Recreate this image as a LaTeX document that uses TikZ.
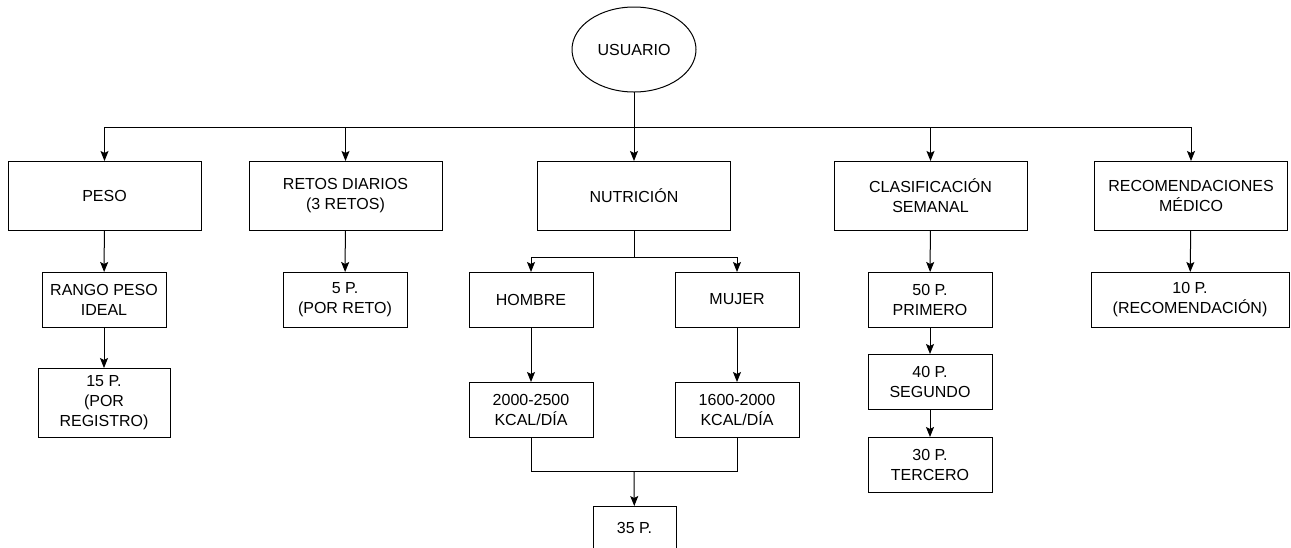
\documentclass[tikz,border=0pt]{standalone}
\usepackage{fontspec}
\setmainfont{Liberation Sans}
\usetikzlibrary{arrows.meta,shapes.geometric}

\begin{document}
\begin{tikzpicture}[x=1pt,y=-1pt,line width=1pt,>={Stealth[length=10pt,width=8pt,inset=2pt]},
  every node/.style={font=\fontsize{16}{20}\selectfont,align=center,inner sep=0pt,outer sep=0pt},
  caja/.style={draw,rectangle,minimum width=124pt,minimum height=55pt},
  grande/.style={caja,minimum width=193pt,minimum height=69pt}]
  \useasboundingbox (0,0) rectangle (1291,547);
  \node[draw,ellipse,minimum width=124pt,minimum height=85pt] (usuario) at (634,49.5) {USUARIO};
  \node[grande] (peso) at (104.5,195.5) {PESO};
  \node[grande] (retos) at (345.5,195.5) {RETOS DIARIOS\\(3 RETOS)};
  \node[grande] (nutricion) at (634,195.5) {NUTRICIÓN};
  \node[grande] (clasif) at (930.5,195.5) {CLASIFICACIÓN\\SEMANAL};
  \node[grande] (recom) at (1191,195.5) {RECOMENDACIONES\\MÉDICO};
  \node[caja] (rango) at (104,299.5) {RANGO PESO\\IDEAL};
  \node[caja,minimum width=132pt,minimum height=69pt] (quince) at (104,402.5) {15 P.\\(POR\\REGISTRO)};
  \node[caja] (cinco) at (345,299.5) {5 P.\\(POR RETO)};
  \node[caja] (hombre) at (531,299.5) {HOMBRE};
  \node[caja] (mujer) at (737,299.5) {MUJER};
  \node[caja] (kcalh) at (531,409.5) {2000-2500\\KCAL/DÍA};
  \node[caja] (kcalm) at (737,409.5) {1600-2000\\KCAL/DÍA};
  \node[caja,minimum width=83pt,minimum height=44pt] (treinta) at (634.5,528) {35 P.};
  \node[caja] (primero) at (930,299.5) {50 P.\\PRIMERO};
  \node[caja] (segundo) at (930,381.5) {40 P.\\SEGUNDO};
  \node[caja] (tercero) at (930,464.5) {30 P.\\TERCERO};
  \node[caja,minimum width=198pt] (diez) at (1190,299.5) {10 P.\\(RECOMENDACIÓN)};
  \coordinate (bus) at (634,127);
  \coordinate (reparto) at (634,257);
  \coordinate (union) at (634,471);
  \draw[->] (usuario) -- (nutricion);
  \draw[->] (bus) -| (peso);
  \draw[->] (bus) -| (retos);
  \draw[->] (bus) -| (clasif);
  \draw[->] (bus) -| (recom);
  \draw[->] (peso) -- (rango);
  \draw[->] (rango) -- (quince);
  \draw[->] (retos) -- (cinco);
  \draw (nutricion) -- (reparto);
  \draw[->] (reparto) -| (hombre);
  \draw[->] (reparto) -| (mujer);
  \draw[->] (hombre) -- (kcalh);
  \draw[->] (mujer) -- (kcalm);
  \draw (kcalh) |- (union);
  \draw (kcalm) |- (union);
  \draw[->] (union) -- (treinta);
  \draw[->] (clasif) -- (primero);
  \draw[->] (primero) -- (segundo);
  \draw[->] (segundo) -- (tercero);
  \draw[->] (recom) -- (diez);
\end{tikzpicture}
\end{document}
